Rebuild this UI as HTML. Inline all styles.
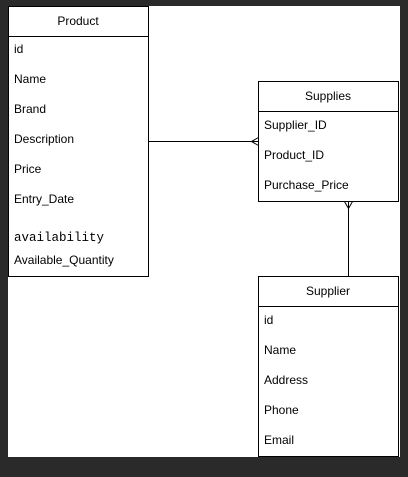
<!DOCTYPE html>
<html><head><style>
html,body{margin:0;padding:0;background:#2a2a2a;width:408px;height:477px;overflow:hidden}
svg{display:block}
text{font-family:"Liberation Sans",sans-serif;font-size:12px;fill:#000}
</style></head><body>
<svg width="408" height="477" xmlns="http://www.w3.org/2000/svg">
<rect x="8" y="6" width="392" height="451" fill="#fff"/>
<g fill="none" stroke="#000" stroke-width="1">
<rect x="8.5" y="6.5" width="140" height="270"/>
<line x1="8.5" y1="36.5" x2="148.5" y2="36.5"/>
<rect x="258.5" y="81.5" width="140" height="120"/>
<line x1="258.5" y1="111.5" x2="398.5" y2="111.5"/>
<rect x="258.5" y="276.5" width="140" height="180"/>
<line x1="258.5" y1="306.5" x2="398.5" y2="306.5"/>
<line x1="148.5" y1="141.5" x2="258.5" y2="141.5"/>
<path d="M258.5 137.5 L251.5 141.5 L258.5 145.5"/>
<line x1="348.5" y1="201.5" x2="348.5" y2="276.5"/>
<path d="M344.5 201.5 L348.5 208.5 L352.5 201.5"/>
</g>
<text x="78" y="25" text-anchor="middle">Product</text>
<text x="14" y="53">id</text>
<text x="14" y="83">Name</text>
<text x="14" y="113">Brand</text>
<text x="14" y="143">Description</text>
<text x="14" y="173">Price</text>
<text x="14" y="203">Entry_Date</text>
<text x="14" y="241" style="font-family:'Liberation Mono',monospace;font-size:12.5px">availability</text>
<text x="14" y="264">Available_Quantity</text>
<text x="328" y="100" text-anchor="middle">Supplies</text>
<text x="264" y="129">Supplier_ID</text>
<text x="264" y="159">Product_ID</text>
<text x="264" y="189">Purchase_Price</text>
<text x="328" y="295" text-anchor="middle">Supplier</text>
<text x="264" y="324">id</text>
<text x="264" y="354">Name</text>
<text x="264" y="384">Address</text>
<text x="264" y="414">Phone</text>
<text x="264" y="444">Email</text>
</svg>
</body></html>
